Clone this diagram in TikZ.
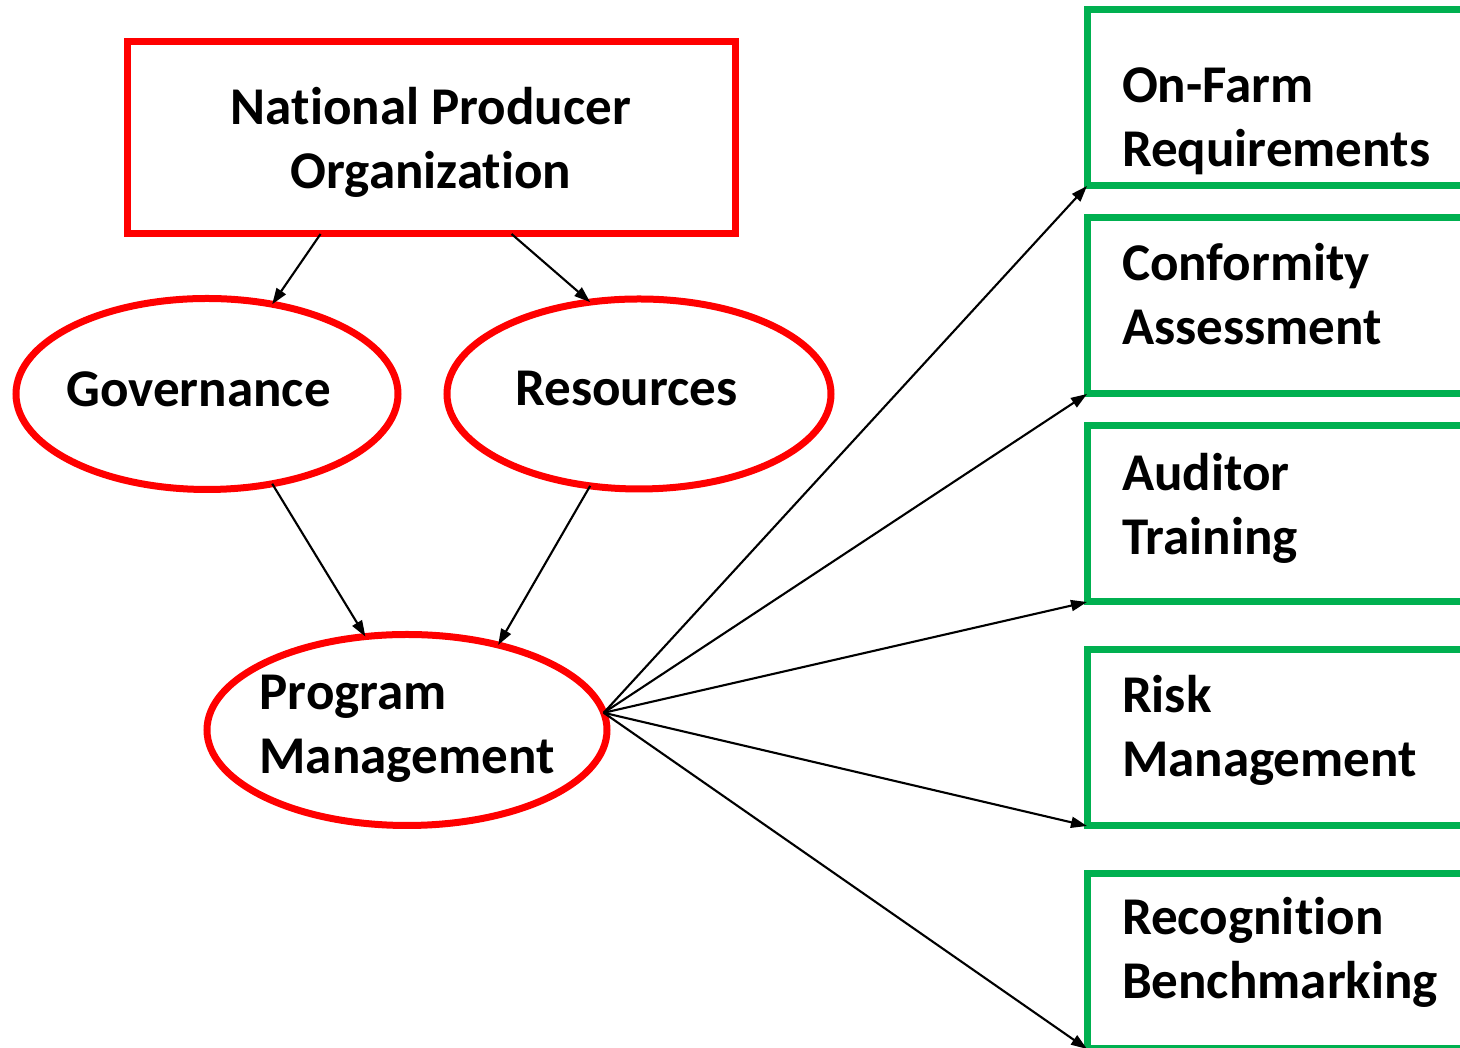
\documentclass[tikz,border=0pt]{standalone}
\usepackage{fontspec}
\setmainfont{Carlito}[Ligatures=NoCommon]
\usetikzlibrary{shapes.geometric, arrows.meta, positioning}
\definecolor{boxgreen}{RGB}{0,176,80}

\begin{document}
\begin{tikzpicture}[
        redbox/.style={draw=red, line width=0.7mm, rectangle, outer sep=0pt},
        redoval/.style={draw=red, line width=0.7mm, ellipse, inner sep=0pt, outer sep=0pt},
        ovaltext/.style={align=left, inner sep=0pt, font=\bfseries\fontsize{15.1}{18.2}\selectfont},
        greenbox/.style={draw=boxgreen, line width=0.7mm, rectangle, anchor=south west,
                minimum width=4.5cm, inner sep=0pt, outer sep=0pt},
        boxtext/.style={align=left, text width=3.6cm, inner sep=0pt, xshift=-1mm,
                font=\bfseries\fontsize{15.1}{18.2}\selectfont},
        link/.style={-{Triangle[length=1.6mm, width=1.1mm]}, line width=0.6pt, black}
    ]
    \useasboundingbox (0,0) rectangle (14.6,10.48);
    \clip (0,0) rectangle (14.6,10.48);

    % organisation side
    \node[redbox, minimum width=6.08cm, minimum height=1.92cm,
        label={[ovaltext, align=center, yshift=-0.4mm]center:{National Producer\\Organization}}] (npo) at (4.31,9.10) {};
    \node[redoval, minimum width=3.82cm, minimum height=1.91cm,
        label={[ovaltext, xshift=-0.85mm, yshift=0.5mm]center:Governance}] (gov) at (2.07,6.54) {};
    \node[redoval, minimum width=3.84cm, minimum height=1.90cm,
        label={[ovaltext, xshift=-1.25mm, yshift=0.5mm]center:Resources}] (res) at (6.39,6.54) {};
    \node[redoval, minimum width=4.0cm, minimum height=1.91cm,
        label={[ovaltext, yshift=0.1mm]center:{Program\\Management}}] (pm) at (4.07,3.18) {};
    \coordinate (hub) at (pm.5);

    % scheme components
    \node[greenbox, minimum height=1.76cm, label={[boxtext, yshift=-2.3mm]center:{On-Farm\\Requirements}}] (req) at (10.87,8.62) {};
    \node[greenbox, minimum height=1.76cm, label={[boxtext, yshift=1.2mm]center:{Conformity\\Assessment}}] (conf) at (10.87,6.54) {};
    \node[greenbox, minimum height=1.76cm, label={[boxtext, yshift=0.6mm]center:{Auditor\\Training}}] (aud) at (10.87,4.46) {};
    \node[greenbox, minimum height=1.76cm, label={[boxtext, yshift=0.75mm]center:{Risk\\Management}}] (risk) at (10.87,2.22) {};
    \node[greenbox, minimum height=1.75cm, label={[boxtext, yshift=0.9mm]center:{Recognition\\Benchmarking}}] (recog) at (10.87,-0.01) {};

    % connectors
    \draw[link] (npo.221) -- (gov.54);
    \draw[link] (npo.-50) -- (res.118);
    \draw[link] (gov.-54) -- (pm.114);
    \draw[link] (res.-118) -- (pm.43.5);
    \foreach \t in {req,conf,aud,risk,recog}
        \draw[link] (hub) -- (\t.south west);
\end{tikzpicture}
\end{document}
